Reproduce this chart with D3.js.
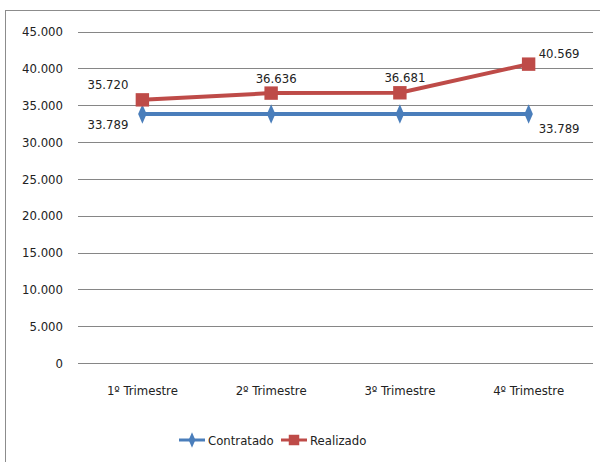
<!DOCTYPE html>
<html lang="pt">
<head>
<meta charset="UTF-8" />
<title>Contratado x Realizado</title>
<script src="https://d3js.org/d3.v7.min.js"></script>
<style>
  body { margin: 0; background: #fff; }
  svg { display: block; }
  text { font-family: "DejaVu Sans Condensed", "Liberation Sans Narrow", sans-serif; fill: #222; }
</style>
</head>
<body>
<div id="chart"></div>
<script>
const categorias = ['1º Trimestre', '2º Trimestre', '3º Trimestre', '4º Trimestre'];
const contratado = [33789, 33789, 33789, 33789];
const realizado = [35720, 36636, 36681, 40569];
const yTicks = [0, 5000, 10000, 15000, 20000, 25000, 30000, 35000, 40000, 45000];

// onde fica cada rótulo de dado (como no Excel)
const posContratado = ['left-below', null, null, 'right-below'];
const posRealizado = ['left-above', 'above', 'above', 'right-above'];

const width = 600, height = 462;
const margin = { top: 31.5, right: 7, bottom: 99, left: 78 };
const fs = '13px';

const svg = d3.select('#chart').append('svg').attr('width', width).attr('height', height);

// borda do gráfico
svg.append('rect')
  .attr('x', 5.5).attr('y', 10.5).attr('width', 610).attr('height', 470)
  .attr('fill', 'none').attr('stroke', '#8c8c8c').attr('stroke-width', 1);

const x = d3.scaleBand().domain(categorias).range([margin.left, width - margin.right]);
const y = d3.scaleLinear().domain([0, 45000]).range([height - margin.bottom, margin.top]);
const fmt = d3.formatLocale({ decimal: ',', thousands: '.', grouping: [3], currency: ['R$', ''] }).format(',d');

// grade
svg.append('g').selectAll('line').data(yTicks).join('line')
  .attr('x1', margin.left).attr('x2', width - margin.right)
  .attr('y1', d => Math.round(y(d)) + 0.5).attr('y2', d => Math.round(y(d)) + 0.5)
  .attr('stroke', '#868686').attr('stroke-width', 1);

// eixo y
const yAxis = svg.append('g')
  .attr('transform', `translate(${margin.left},0)`)
  .call(d3.axisLeft(y).tickValues(yTicks).tickSize(0).tickPadding(15).tickFormat(fmt));
yAxis.select('.domain').remove();
yAxis.selectAll('text').style('font-size', fs).style('font-family', null);

// eixo x
const xAxis = svg.append('g')
  .attr('transform', `translate(0,${height - margin.bottom})`)
  .call(d3.axisBottom(x).tickSize(0).tickPadding(23));
xAxis.select('.domain').remove();
xAxis.selectAll('text').style('font-size', fs).style('font-family', null);

const cx = d => x(d) + x.bandwidth() / 2;
const line = d3.line().x(d => cx(d.cat)).y(d => y(d.v));

const series = [
  { nome: 'Contratado', valores: contratado, cor: '#4a7ebb', marca: d3.symbolDiamond, tam: 110, pos: posContratado },
  { nome: 'Realizado', valores: realizado, cor: '#be4b48', marca: d3.symbolSquare, tam: 180, pos: posRealizado }
];

series.forEach(s => {
  const pts = s.valores.map((v, i) => ({ cat: categorias[i], v, pos: s.pos[i] }));
  svg.append('path').datum(pts)
    .attr('d', line).attr('fill', 'none')
    .attr('stroke', s.cor).attr('stroke-width', 4);
  svg.append('g').selectAll('path').data(pts).join('path')
    .attr('transform', d => `translate(${cx(d.cat)},${y(d.v)})` + (s.marca === d3.symbolDiamond ? ' scale(0.75,1)' : ''))
    .attr('d', d3.symbol().type(s.marca).size(s.tam))
    .attr('fill', s.cor);
  svg.append('g').selectAll('text').data(pts.filter(d => d.pos)).join('text')
    .attr('x', d => {
      const px = cx(d.cat);
      if (d.pos.startsWith('left')) return px - 14;
      if (d.pos.startsWith('right')) return px + 10;
      return px + 5;
    })
    .attr('y', d => {
      const py = y(d.v);
      if (d.pos === 'left-below') return py + 10;
      if (d.pos === 'right-below') return py + 14;
      if (d.pos === 'right-above') return py - 11;
      return py - 15;
    })
    .attr('dy', '0.35em')
    .attr('text-anchor', d => d.pos.startsWith('left') ? 'end' : d.pos.startsWith('right') ? 'start' : 'middle')
    .style('font-size', fs)
    .text(d => fmt(d.v));
});

// legenda
const legend = [
  { nome: 'Contratado', cor: '#4a7ebb', marca: d3.symbolDiamond, tam: 70, x0: 179 },
  { nome: 'Realizado', cor: '#be4b48', marca: d3.symbolSquare, tam: 110, x0: 281 }
];
const ly = 440;
legend.forEach(l => {
  svg.append('line').attr('x1', l.x0).attr('x2', l.x0 + 26).attr('y1', ly).attr('y2', ly)
    .attr('stroke', l.cor).attr('stroke-width', 3);
  svg.append('path')
    .attr('transform', `translate(${l.x0 + 13},${ly})` + (l.marca === d3.symbolDiamond ? ' scale(0.75,1)' : ''))
    .attr('d', d3.symbol().type(l.marca).size(l.tam)).attr('fill', l.cor);
  svg.append('text').attr('x', l.x0 + 29).attr('y', ly).attr('dy', '0.35em')
    .style('font-size', fs).text(l.nome);
});
</script>
</body>
</html>
